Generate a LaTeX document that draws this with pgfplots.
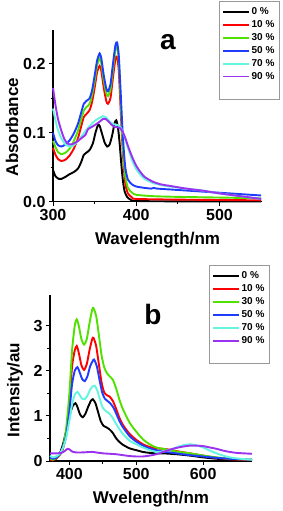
\documentclass[border=0pt]{standalone}
\usepackage{fontspec}
\setmainfont{Liberation Sans}
\usepackage{pgfplots}
\pgfplotsset{compat=1.18}
\definecolor{cA}{RGB}{0,0,0}
\definecolor{cB}{RGB}{255,0,0}
\definecolor{cC}{RGB}{80,225,0}
\definecolor{cD}{RGB}{30,60,255}
\definecolor{cE}{RGB}{100,245,225}
\definecolor{cF}{RGB}{155,50,240}
\pgfplotsset{
  myax/.style={
    scale only axis,
    axis lines=left,
    axis line style={line width=1.2pt,-},
    tick style={line width=1pt,black},
    tick align=outside,
    major tick length=4pt,
    minor tick length=2.5pt,
    minor tick num=1,
    tick label style={font=\fontsize{16}{16}\selectfont\bfseries},
    label style={font=\fontsize{17}{17}\selectfont\bfseries},
    /pgf/number format/assume math mode=true,
    every axis plot/.append style={line width=1.9pt, smooth, tension=0.4},
    legend image code/.code={\draw[#1, line width=1.8pt] (0pt,0pt) -- (26pt,0pt);},
    legend style={draw=gray!80, line width=0.8pt, font=\fontsize{10}{12}\selectfont\bfseries,
      nodes={inner sep=1.5pt, anchor=west}, row sep=1.4pt, inner xsep=3pt, inner ysep=5pt, fill=white},
    legend cell align=left,
    clip=false,
  }
}
\begin{document}
\begin{tikzpicture}
\useasboundingbox (0,0) rectangle (283pt,511pt);
% ---------------- panel a ----------------
\begin{axis}[myax,
  at={(53pt,309.3pt)}, anchor=south west,
  width=209pt, height=171.7pt,
  xmin=300, xmax=551, ymin=0, ymax=0.249,
  xtick={300,400,500}, ytick={0,0.1,0.2},
  yticklabel style={/pgf/number format/.cd, fixed, fixed zerofill, precision=1},
  xlabel={Wavelength/nm}, ylabel={Absorbance},
  xlabel style={at={(rel axis cs:0.5,-0.252)}, anchor=base},
  ylabel style={at={(rel axis cs:-0.196,0.435)}, anchor=center},
  legend style={at={(rel axis cs:0.794,1.169)}, anchor=north west},
]
\addplot[cA] coordinates {(300,0.046)(303,0.037)(307,0.033)(310,0.033)(315,0.036)(320,0.040)(325,0.043)(330,0.048)(334,0.058)(337,0.068)(340,0.071)(344,0.075)(348,0.085)(351,0.100)(354,0.111)(356,0.110)(359,0.098)(362,0.086)(365,0.080)(368,0.083)(371,0.096)(374,0.114)(376,0.118)(378,0.108)(380,0.085)(382,0.055)(384,0.030)(386,0.015)(389,0.007)(393,0.003)(400,0.001)(450,0.0005)(550,0.0005)};
\addlegendentry{0 \%}
\addplot[cB] coordinates {(300,0.078)(303,0.068)(306,0.062)(310,0.059)(315,0.061)(320,0.067)(325,0.077)(330,0.092)(334,0.110)(337,0.123)(340,0.127)(344,0.133)(347,0.145)(350,0.165)(353,0.188)(356,0.197)(358,0.190)(361,0.165)(364,0.146)(366,0.142)(369,0.150)(372,0.180)(375,0.207)(377,0.210)(379,0.190)(381,0.140)(383,0.090)(385,0.050)(387,0.025)(390,0.012)(395,0.006)(400,0.004)(450,0.003)(550,0.002)};
\addlegendentry{10 \%}
\addplot[cC] coordinates {(300,0.088)(303,0.079)(306,0.072)(310,0.069)(315,0.071)(320,0.077)(325,0.088)(330,0.103)(334,0.120)(337,0.132)(340,0.137)(344,0.142)(347,0.155)(350,0.175)(353,0.198)(356,0.208)(358,0.201)(361,0.176)(364,0.157)(366,0.153)(369,0.162)(372,0.192)(375,0.221)(377,0.225)(379,0.205)(381,0.155)(383,0.100)(385,0.060)(387,0.035)(390,0.020)(395,0.013)(400,0.010)(420,0.008)(450,0.007)(500,0.006)(550,0.005)};
\addlegendentry{30 \%}
\addplot[cD] coordinates {(300,0.100)(303,0.088)(306,0.082)(310,0.080)(315,0.083)(320,0.089)(325,0.099)(330,0.113)(334,0.130)(337,0.142)(340,0.146)(344,0.150)(347,0.162)(350,0.183)(353,0.205)(356,0.215)(358,0.208)(361,0.183)(364,0.164)(366,0.160)(369,0.170)(372,0.200)(375,0.227)(377,0.231)(379,0.212)(381,0.165)(383,0.115)(385,0.075)(387,0.048)(390,0.032)(395,0.025)(400,0.022)(410,0.020)(418,0.019)(421,0.020)(425,0.019)(450,0.017)(500,0.013)(550,0.009)};
\addlegendentry{50 \%}
\addplot[cE] coordinates {(300,0.135)(303,0.118)(306,0.104)(310,0.092)(315,0.083)(320,0.080)(325,0.082)(330,0.088)(335,0.096)(340,0.104)(345,0.111)(350,0.117)(355,0.121)(360,0.124)(363,0.123)(366,0.119)(370,0.114)(374,0.112)(378,0.111)(382,0.106)(386,0.094)(390,0.078)(395,0.060)(400,0.047)(405,0.039)(410,0.033)(420,0.027)(430,0.024)(440,0.022)(460,0.019)(480,0.016)(500,0.012)(525,0.008)(550,0.004)};
\addlegendentry{70 \%}
\addplot[cF] coordinates {(300,0.165)(303,0.140)(306,0.120)(310,0.103)(314,0.090)(318,0.084)(322,0.083)(326,0.085)(330,0.088)(335,0.093)(339,0.097)(342,0.105)(346,0.108)(350,0.111)(355,0.115)(360,0.120)(363,0.120)(366,0.117)(370,0.112)(373,0.109)(377,0.108)(380,0.107)(383,0.103)(386,0.095)(390,0.081)(395,0.065)(400,0.052)(405,0.043)(410,0.036)(420,0.029)(430,0.025)(440,0.023)(460,0.019)(480,0.016)(500,0.012)(525,0.008)(550,0.004)};
\addlegendentry{90 \%}
\addlegendimage{empty legend}\addlegendentry{}
\addlegendimage{empty legend}\addlegendentry{}
\node at (rel axis cs:0.55,0.93) {\fontsize{28}{28}\selectfont\bfseries a};
\end{axis}
% ---------------- panel b ----------------
\begin{axis}[myax,
  at={(50pt,50pt)}, anchor=south west,
  width=202pt, height=166pt,
  xmin=371, xmax=673, ymin=0, ymax=3.68,
  xtick={400,500,600}, ytick={0,1,2,3},
  xlabel={Wvelength/nm}, ylabel={Intensity/au},
  xlabel style={at={(rel axis cs:0.5,-0.255)}, anchor=base},
  ylabel style={at={(rel axis cs:-0.173,0.428)}, anchor=center},
  legend style={at={(rel axis cs:0.787,1.18)}, anchor=north west},
]
\addplot[cA] coordinates {(371,0.08)(375,0.04)(378,0.03)(382,0.08)(386,0.18)(390,0.35)(395,0.65)(400,1.0)(405,1.22)(409,1.28)(412,1.20)(416,1.03)(420,0.97)(424,1.05)(428,1.20)(432,1.33)(435,1.37)(439,1.28)(443,1.08)(447,0.88)(451,0.78)(455,0.75)(460,0.70)(465,0.62)(470,0.50)(475,0.42)(480,0.36)(490,0.28)(500,0.24)(510,0.20)(520,0.18)(530,0.17)(540,0.17)(560,0.15)(580,0.12)(600,0.08)(620,0.05)(640,0.025)(673,0.01)};
\addlegendentry{0 \%}
\addplot[cB] coordinates {(371,0.03)(375,0.02)(380,0.05)(385,0.12)(390,0.25)(395,0.6)(400,1.3)(404,2.1)(408,2.45)(411,2.55)(414,2.4)(418,2.12)(422,2.02)(426,2.15)(430,2.45)(434,2.70)(436,2.73)(440,2.55)(444,2.15)(448,1.75)(452,1.52)(456,1.46)(460,1.43)(465,1.33)(470,1.15)(475,0.95)(480,0.8)(490,0.6)(500,0.47)(510,0.37)(520,0.31)(530,0.28)(540,0.27)(550,0.25)(560,0.22)(580,0.17)(600,0.12)(620,0.07)(640,0.04)(673,0.02)};
\addlegendentry{10 \%}
\addplot[cC] coordinates {(371,0.05)(375,0.03)(380,0.06)(385,0.13)(390,0.28)(395,0.7)(400,1.5)(404,2.45)(408,3.0)(411,3.14)(414,3.0)(418,2.7)(422,2.58)(426,2.7)(430,3.05)(434,3.35)(436,3.39)(440,3.22)(444,2.8)(448,2.35)(452,2.08)(456,1.95)(460,1.88)(465,1.80)(470,1.6)(475,1.35)(480,1.15)(490,0.85)(500,0.65)(510,0.48)(520,0.37)(530,0.30)(540,0.27)(550,0.24)(560,0.21)(580,0.17)(600,0.12)(620,0.08)(640,0.05)(673,0.03)};
\addlegendentry{30 \%}
\addplot[cD] coordinates {(371,0.08)(375,0.05)(380,0.07)(385,0.14)(390,0.28)(395,0.55)(400,1.1)(404,1.7)(408,2.0)(412,2.08)(415,1.98)(419,1.82)(423,1.77)(427,1.88)(431,2.1)(435,2.22)(437,2.25)(441,2.1)(445,1.8)(449,1.52)(453,1.38)(457,1.33)(461,1.28)(466,1.18)(470,1.05)(475,0.88)(480,0.75)(490,0.55)(500,0.43)(510,0.34)(520,0.28)(530,0.24)(540,0.21)(560,0.17)(580,0.13)(600,0.10)(620,0.07)(640,0.05)(673,0.03)};
\addlegendentry{50 \%}
\addplot[cE] coordinates {(371,0.12)(375,0.08)(380,0.10)(385,0.15)(390,0.28)(395,0.5)(400,0.9)(404,1.25)(408,1.47)(412,1.53)(415,1.47)(419,1.38)(423,1.37)(427,1.45)(431,1.58)(435,1.66)(438,1.67)(442,1.55)(446,1.35)(450,1.18)(455,1.10)(460,1.05)(465,0.95)(470,0.82)(475,0.70)(480,0.60)(490,0.45)(500,0.37)(510,0.30)(520,0.24)(530,0.20)(540,0.21)(550,0.25)(560,0.30)(570,0.35)(580,0.37)(590,0.35)(600,0.30)(610,0.23)(620,0.17)(630,0.12)(640,0.08)(655,0.05)(673,0.03)};
\addlegendentry{70 \%}
\addplot[cF] coordinates {(371,0.17)(380,0.17)(388,0.18)(393,0.22)(397,0.27)(400,0.26)(404,0.21)(410,0.19)(420,0.19)(430,0.20)(436,0.20)(440,0.19)(450,0.17)(460,0.16)(470,0.15)(480,0.13)(490,0.11)(500,0.10)(510,0.10)(520,0.12)(530,0.15)(540,0.20)(550,0.25)(560,0.29)(570,0.32)(580,0.34)(590,0.34)(600,0.33)(610,0.30)(620,0.27)(630,0.23)(640,0.20)(650,0.18)(660,0.17)(673,0.16)};
\addlegendentry{90 \%}
\addlegendimage{empty legend}\addlegendentry{}
\addlegendimage{empty legend}\addlegendentry{}
\node at (rel axis cs:0.51,0.88) {\fontsize{28}{28}\selectfont\bfseries b};
\end{axis}
\end{tikzpicture}
\end{document}
